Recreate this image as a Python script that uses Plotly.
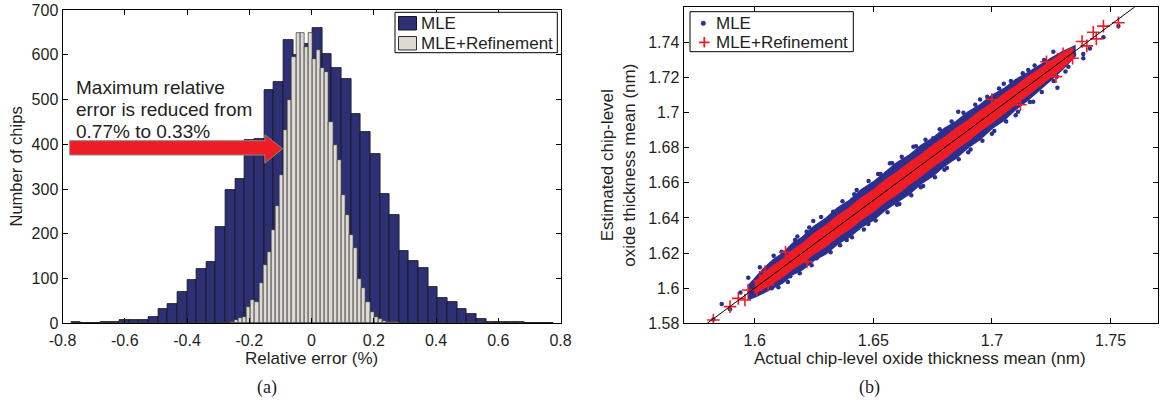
import numpy as np
import plotly.graph_objects as go

# ---------------- (a) histogram of relative error ----------------
# MLE: 50 bins between -0.772 % and 0.778 %
mle_bin_start, mle_bin_width = -0.772, 0.031
mle_counts = [2, 1, 0, 3, 4, 7, 8, 8, 14, 33,
              43, 69, 97, 121, 138, 216, 298, 322, 410, 412,
              521, 540, 633, 600, 625, 659, 602, 571, 545, 467,
              427, 378, 290, 242, 162, 139, 123, 80, 57, 48,
              33, 21, 10, 4, 3, 2, 3, 1, 1, 1]

# MLE + refinement: 50 bins between -0.327 % and 0.333 %
ref_bin_start, ref_bin_width = -0.327, 0.0132
ref_counts = [0, 0, 0, 0, 1, 3, 7, 11, 15, 37,
              52, 48, 89, 130, 160, 208, 261, 331, 432, 498,
              596, 648, 648, 618, 648, 590, 610, 570, 562, 450,
              398, 365, 287, 242, 197, 168, 100, 78, 48, 26,
              15, 9, 6, 4, 3, 2, 1, 1, 0, 1]

x_ticks_a = [-0.8, -0.6, -0.4, -0.2, 0, 0.2, 0.4, 0.6, 0.8]
x_ticktext_a = ["-0.8", "-0.6", "-0.4", "-0.2", "0", "0.2", "0.4", "0.6", "0.8"]
y_ticks_a = [0, 100, 200, 300, 400, 500, 600, 700]

# ---------------- (b) estimated vs actual thickness ----------------
# dense part of the MLE cloud: upper / lower edge along the diagonal
mle_band_x = [1.597, 1.600, 1.604, 1.608, 1.612, 1.616, 1.620, 1.625, 1.630, 1.635,
              1.640, 1.645, 1.650, 1.655, 1.660, 1.665, 1.670, 1.675, 1.680, 1.685,
              1.690, 1.695, 1.700, 1.705, 1.710, 1.715, 1.720, 1.725, 1.730, 1.735]
mle_band_upper = [1.6010, 1.6055, 1.6115, 1.6165, 1.6200, 1.6255, 1.6290, 1.6352, 1.6398, 1.6458,
                  1.6500, 1.6562, 1.6605, 1.6660, 1.6715, 1.6756, 1.6812, 1.6854, 1.6910, 1.6950,
                  1.7004, 1.7044, 1.7098, 1.7136, 1.7188, 1.7226, 1.7270, 1.7310, 1.7348, 1.7380]
mle_band_lower = [1.5935, 1.5950, 1.5975, 1.6002, 1.6032, 1.6078, 1.6104, 1.6158, 1.6196, 1.6252,
                  1.6292, 1.6348, 1.6388, 1.6444, 1.6490, 1.6534, 1.6594, 1.6638, 1.6696, 1.6742,
                  1.6802, 1.6848, 1.6910, 1.6956, 1.7018, 1.7070, 1.7128, 1.7188, 1.7250, 1.7320]

# dense part of the MLE+Refinement cloud
ref_band_x = [1.600, 1.604, 1.608, 1.612, 1.616, 1.620, 1.625, 1.630, 1.635, 1.640,
              1.645, 1.650, 1.655, 1.660, 1.665, 1.670, 1.675, 1.680, 1.685, 1.690,
              1.695, 1.700, 1.705, 1.710, 1.715, 1.720, 1.725, 1.730, 1.734]
ref_band_upper = [1.6030, 1.6085, 1.6130, 1.6165, 1.6215, 1.6252, 1.6310, 1.6356, 1.6412, 1.6458,
                  1.6513, 1.6559, 1.6614, 1.6660, 1.6713, 1.6758, 1.6812, 1.6857, 1.6910, 1.6955,
                  1.7008, 1.7052, 1.7105, 1.7150, 1.7202, 1.7246, 1.7295, 1.7340, 1.7370]
ref_band_lower = [1.5970, 1.6000, 1.6032, 1.6068, 1.6110, 1.6144, 1.6196, 1.6240, 1.6293, 1.6338,
                  1.6392, 1.6437, 1.6491, 1.6536, 1.6590, 1.6638, 1.6692, 1.6739, 1.6794, 1.6841,
                  1.6896, 1.6943, 1.6998, 1.7046, 1.7101, 1.7150, 1.7206, 1.7258, 1.7310]

# single MLE chips outside / on the rim of the dense cloud
mle_pts_x = [1.5826, 1.5861, 1.5896, 1.5940, 1.5973, 1.6000, 1.6022, 1.6065, 1.6072,
             1.6114, 1.6150, 1.6170, 1.6219, 1.6247, 1.6261, 1.6331, 1.6388, 1.6420,
             1.6479, 1.6530, 1.6570, 1.6600, 1.6669, 1.6700, 1.6753, 1.6800, 1.6858,
             1.6900, 1.6950, 1.7000, 1.7050, 1.7100, 1.7153, 1.7174, 1.7259, 1.7276,
             1.7273, 1.7322, 1.7346, 1.7385, 1.7385, 1.7413, 1.7470, 1.7533,
             1.608, 1.618, 1.623, 1.628, 1.637, 1.643, 1.648, 1.652, 1.658, 1.662,
             1.668, 1.672, 1.678, 1.683, 1.688, 1.693, 1.698, 1.703, 1.708, 1.713,
             1.718, 1.722,
             1.610, 1.614, 1.619, 1.624, 1.632, 1.636, 1.641, 1.646, 1.651, 1.656,
             1.661, 1.666, 1.671, 1.676, 1.681, 1.686, 1.691, 1.696, 1.701, 1.706,
             1.711, 1.716, 1.721, 1.726, 1.731]
mle_pts_y = [1.5822, 1.5910, 1.5880, 1.5975, 1.6060, 1.5965, 1.6119, 1.6126, 1.5999,
             1.6208, 1.6068, 1.6274, 1.6322, 1.6383, 1.6170, 1.6436, 1.6274, 1.6535,
             1.6365, 1.6650, 1.6711, 1.6475, 1.6806, 1.6575, 1.6854, 1.6675, 1.7005,
             1.6775, 1.7075, 1.6880, 1.7165, 1.6985, 1.7243, 1.7062, 1.7347, 1.7142,
             1.7205, 1.7262, 1.7332, 1.7334, 1.7310, 1.7366, 1.7429, 1.7493,
             1.6185, 1.6295, 1.6345, 1.6405, 1.6495, 1.6560, 1.6610, 1.6650, 1.6712, 1.6748,
             1.6808, 1.6845, 1.6905, 1.6950, 1.7000, 1.7045, 1.7090, 1.7138, 1.7180, 1.7225,
             1.7268, 1.7300,
             1.6005, 1.6035, 1.6085, 1.6130, 1.6205, 1.6245, 1.6290, 1.6335, 1.6385, 1.6432,
             1.6480, 1.6530, 1.6582, 1.6632, 1.6685, 1.6735, 1.6790, 1.6840, 1.6895, 1.6950,
             1.7005, 1.7060, 1.7118, 1.7180, 1.7235]

# single MLE+Refinement chips at the ends of the cloud
ref_pts_x = [1.5826, 1.5896, 1.5931, 1.5959, 1.5973, 1.6009, 1.6022, 1.6044, 1.6057,
             1.6044, 1.6107, 1.613, 1.622, 1.700, 1.712, 1.723, 1.727,
             1.7300, 1.7340, 1.7380, 1.7400, 1.7427, 1.7440, 1.7470, 1.7533]
ref_pts_y = [1.5819, 1.5895, 1.5942, 1.5933, 1.5990, 1.5990, 1.6043, 1.6037, 1.6018,
             1.6094, 1.6085, 1.6205, 1.6150, 1.7075, 1.7045, 1.7290, 1.7205,
             1.7335, 1.7310, 1.7405, 1.7380, 1.7458, 1.7420, 1.7493, 1.7512]

x_ticks_b = [1.6, 1.65, 1.7, 1.75]
x_ticktext_b = ["1.6", "1.65", "1.7", "1.75"]
y_ticks_b = [1.58, 1.60, 1.62, 1.64, 1.66, 1.68, 1.70, 1.72, 1.74, 1.76]
y_ticktext_b = ["1.58", "1.6", "1.62", "1.64", "1.66", "1.68", "1.7", "1.72", "1.74", "1.76"]

# ---------------- styling ----------------
NAVY = "#2e3075"
LIGHT = "#dcdad2"
BLUE = "#2b2f8f"
RED = "#ee1d25"
FONT = "Liberation Sans, Arial, sans-serif"
SERIF = "Liberation Serif, DejaVu Serif, serif"
TXT = "#231f20"

W, H = 1170, 410


def px_x(p):
    return p / W


def px_y(p):
    return (H - p) / H


fig = go.Figure()

mle_centers = mle_bin_start + mle_bin_width * (np.arange(len(mle_counts)) + 0.5)
ref_centers = ref_bin_start + ref_bin_width * (np.arange(len(ref_counts)) + 0.5)

fig.add_trace(go.Bar(
    x=mle_centers, y=mle_counts, width=mle_bin_width, name="MLE",
    marker=dict(color=NAVY, line=dict(color="#141414", width=0.8)),
    xaxis="x", yaxis="y"))
fig.add_trace(go.Bar(
    x=ref_centers, y=ref_counts, width=ref_bin_width, name="MLE+Refinement",
    marker=dict(color=LIGHT, line=dict(color="#303030", width=0.7)),
    xaxis="x", yaxis="y"))

# scatter panel: dense clouds drawn as filled regions, then single chips
fig.add_trace(go.Scatter(
    x=mle_band_x + mle_band_x[::-1], y=mle_band_upper + mle_band_lower[::-1],
    fill="toself", fillcolor=BLUE, mode="lines", line=dict(color=BLUE, width=1.5),
    hoverinfo="skip", xaxis="x2", yaxis="y2"))
fig.add_trace(go.Scatter(
    x=mle_pts_x, y=mle_pts_y, mode="markers", name="MLE",
    marker=dict(color=BLUE, size=4.5, symbol="circle"),
    xaxis="x2", yaxis="y2"))
fig.add_trace(go.Scatter(
    x=ref_band_x + ref_band_x[::-1], y=ref_band_upper + ref_band_lower[::-1],
    fill="toself", fillcolor=RED, mode="lines", line=dict(color=RED, width=1.5),
    hoverinfo="skip", xaxis="x2", yaxis="y2"))
fig.add_trace(go.Scatter(
    x=ref_pts_x, y=ref_pts_y, mode="markers", name="MLE+Refinement",
    marker=dict(color=RED, size=9, symbol="cross-thin",
                line=dict(color=RED, width=1.6)),
    xaxis="x2", yaxis="y2"))
# y = x reference line
fig.add_trace(go.Scatter(
    x=[1.57, 1.77], y=[1.57, 1.77], mode="lines",
    line=dict(color="black", width=1), hoverinfo="skip",
    xaxis="x2", yaxis="y2"))

axis_common = dict(
    showline=True, linecolor="black", linewidth=1, mirror="ticks",
    ticks="inside", ticklen=5, tickcolor="black", tickwidth=1,
    showgrid=False, zeroline=False, automargin=False,
    tickfont=dict(family=FONT, size=16, color=TXT),
)

fig.update_layout(
    template="none",
    width=W, height=H,
    margin=dict(l=0, r=0, t=0, b=0, pad=0),
    paper_bgcolor="white", plot_bgcolor="white",
    barmode="overlay", bargap=0, showlegend=False,
    xaxis=dict(domain=[px_x(62.5), px_x(560.6)], range=[-0.8, 0.8],
               tickvals=x_ticks_a, ticktext=x_ticktext_a, anchor="y",
               ticklabelstandoff=2, **axis_common),
    yaxis=dict(domain=[px_y(323.3), px_y(10)], range=[0, 700],
               tickvals=y_ticks_a, anchor="x", **axis_common),
    xaxis2=dict(domain=[px_x(683.5), px_x(1158)], range=[1.57, 1.77],
                tickvals=x_ticks_b, ticktext=x_ticktext_b, anchor="y2",
                ticklabelstandoff=2, **axis_common),
    yaxis2=dict(domain=[px_y(323.3), px_y(7.3)], range=[1.58, 1.76],
                tickvals=y_ticks_b, ticktext=y_ticktext_b, anchor="x2", **axis_common),
)

shapes = [
    # red arrow in panel (a)
    dict(type="path", xref="x", yref="y",
         path="M -0.777 408 L -0.150 408 L -0.150 421 L -0.093 390 "
              "L -0.150 358 L -0.150 376 L -0.777 376 Z",
         fillcolor=RED, line=dict(color="#8a8a8a", width=1)),
]


def paper_rect(x0, y0, x1, y1, fill, line_color, width=1):
    return dict(type="rect", xref="paper", yref="paper",
                x0=px_x(x0), x1=px_x(x1), y0=px_y(y1), y1=px_y(y0),
                fillcolor=fill, line=dict(color=line_color, width=width))


# legend of panel (a)
shapes += [
    paper_rect(395, 12.3, 557.3, 52.7, "white", "black"),
    paper_rect(398.5, 16.5, 416.5, 30, NAVY, "#141414"),
    paper_rect(398.5, 36.5, 416.5, 50, LIGHT, "#303030"),
]
# legend of panel (b)
shapes += [
    paper_rect(690, 11.7, 853.3, 51.7, "white", "black"),
    dict(type="circle", xref="paper", yref="paper",
         x0=px_x(701), x1=px_x(705.6), y0=px_y(25.6), y1=px_y(21),
         fillcolor=BLUE, line=dict(color=BLUE, width=0.5)),
    dict(type="path", xref="paper", yref="paper",
         path=f"M {px_x(699)} {px_y(42.3)} L {px_x(709.6)} {px_y(42.3)} "
              f"M {px_x(704.3)} {px_y(37)} L {px_x(704.3)} {px_y(47.6)}",
         line=dict(color=RED, width=1.8)),
]

ann = []
for i, line in enumerate(["Maximum relative", "error is reduced from", "0.77% to 0.33%"]):
    ann.append(dict(text=line, x=px_x(74), y=px_y(87.3 + 21.9 * i),
                    xref="paper", yref="paper", xanchor="left", yanchor="middle",
                    showarrow=False, font=dict(family=FONT, size=19, color=TXT)))


def label(text, x, y, size=17, angle=0, anchor="center", family=FONT):
    return dict(text=text, x=px_x(x), y=px_y(y), textangle=angle,
                xref="paper", yref="paper", xanchor=anchor, yanchor="middle",
                showarrow=False, font=dict(family=family, size=size, color=TXT))


ann += [
    label("MLE", 419, 23.5, anchor="left"),
    label("MLE+Refinement", 419, 43.5, anchor="left"),
    label("MLE", 714, 23.3, anchor="left"),
    label("MLE+Refinement", 714, 42.5, anchor="left"),
    label("Number of chips", 15, 166.5, size=16.5, angle=-90),
    label("Relative error (%)", 311, 358, size=17),
    label("Estimated chip-level<br>oxide thickness mean (nm)", 618.5, 165.3, angle=-90),
    label("Actual chip-level oxide thickness mean (nm)", 920, 358, size=17),
    label("(a)", 267, 387, size=18, family=SERIF),
    label("(b)", 869, 387, size=18, family=SERIF),
]
fig.update_layout(annotations=ann, shapes=shapes)

fig.write_html("out.html")
